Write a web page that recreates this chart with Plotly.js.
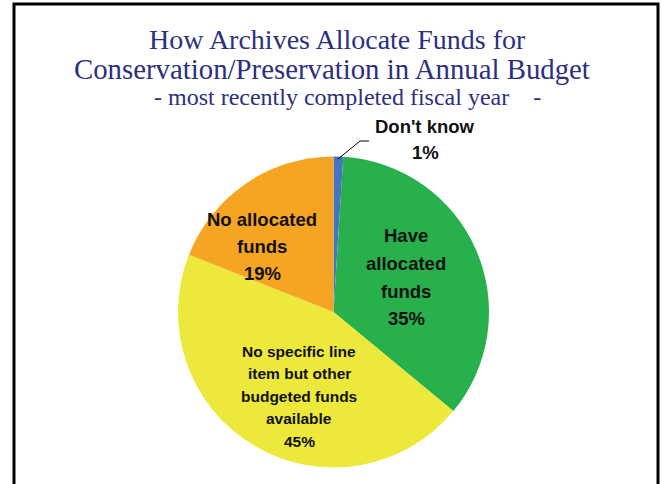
<!DOCTYPE html>
<html>
<head>
<meta charset="utf-8">
<script src="https://cdn.plot.ly/plotly-3.0.1.min.js"></script>
<style>html,body{margin:0;padding:0;background:#fff;}#chart{width:662px;height:484px;}</style>
</head>
<body>
<div id="chart"></div>
<script>
// ---- data ----
const categories = ["Don't know", "Have allocated funds", "No specific line item but other budgeted funds available", "No allocated funds"];
const values = [1, 35, 45, 19];
const labelLines = [["Don't know"], ["Have", "allocated", "funds"], ["No specific line", "item but other", "budgeted funds", "available"], ["No allocated", "funds"]];
const sliceColors = ["#4773C0", "#27B04C", "#ECE93C", "#F5A521"];
const titleLines = ["How Archives Allocate Funds for", "Conservation/Preservation in Annual Budget", "- most recently completed fiscal year &nbsp;&nbsp; -"];

// ---- layout helpers ----
const W = 662, H = 484;
const px = x => x / W;
const py = y => 1 - y / H;

const cx = 333.5, cy = 312, r = 155.5;

// label placement (pixels): center x, first line y, spacing, font size
const labelPos = [
  {x: 425, y: 126, dy: 26.5, size: 18.5},
  {x: 406, y: 236, dy: 27.5, size: 18.5},
  {x: 299, y: 351, dy: 22.5, size: 15.5},
  {x: 262, y: 219, dy: 27, size: 18.5}
];

const annotations = [];
const titleSpec = [{x: 337, y: 40, size: 28}, {x: 331.5, y: 69, size: 28.8}, {x: 347, y: 97, size: 24}];
titleLines.forEach((t, i) => {
  annotations.push({
    text: t, xref: 'paper', yref: 'paper', x: px(titleSpec[i].x), y: py(titleSpec[i].y),
    xanchor: 'center', yanchor: 'middle', showarrow: false,
    font: {family: 'Liberation Serif, Times New Roman, serif', size: titleSpec[i].size, color: '#2B3080'}
  });
});

categories.forEach((c, i) => {
  const lines = labelLines[i].concat([values[i] + '%']);
  const p = labelPos[i];
  lines.forEach((ln, j) => {
    annotations.push({
      text: ln, xref: 'paper', yref: 'paper', x: px(p.x), y: py(p.y + j * p.dy),
      xanchor: 'center', yanchor: 'middle', showarrow: false,
      font: {family: 'Liberation Sans, Arial, sans-serif', size: p.size, color: '#111', weight: 700}
    });
  });
});

const shapes = [
  // frame
  {type: 'path', xref: 'paper', yref: 'paper',
   path: `M ${px(14)} ${py(520)} L ${px(14)} ${py(4)} L ${px(658)} ${py(4)} L ${px(658)} ${py(520)}`,
   line: {color: '#000', width: 3}},
  // leader line for "Don't know"
  {type: 'path', xref: 'paper', yref: 'paper',
   path: `M ${px(338)} ${py(159)} L ${px(360)} ${py(141)} L ${px(369)} ${py(141)}`,
   line: {color: '#000', width: 1}}
];

const trace = {
  type: 'pie',
  labels: categories,
  values: values,
  sort: false,
  direction: 'clockwise',
  rotation: 0,
  textinfo: 'none',
  hoverinfo: 'label+percent',
  marker: {colors: sliceColors, line: {color: '#ffffff', width: 0}},
  domain: {x: [px(cx - r), px(cx + r)], y: [py(cy + r), py(cy - r)]},
  showlegend: false
};

const layout = {
  width: W, height: H,
  margin: {l: 0, r: 0, t: 0, b: 0},
  paper_bgcolor: '#ffffff',
  plot_bgcolor: '#ffffff',
  showlegend: false,
  annotations: annotations,
  shapes: shapes
};

Plotly.newPlot('chart', [trace], layout, {displayModeBar: false, staticPlot: true});
</script>
</body>
</html>
